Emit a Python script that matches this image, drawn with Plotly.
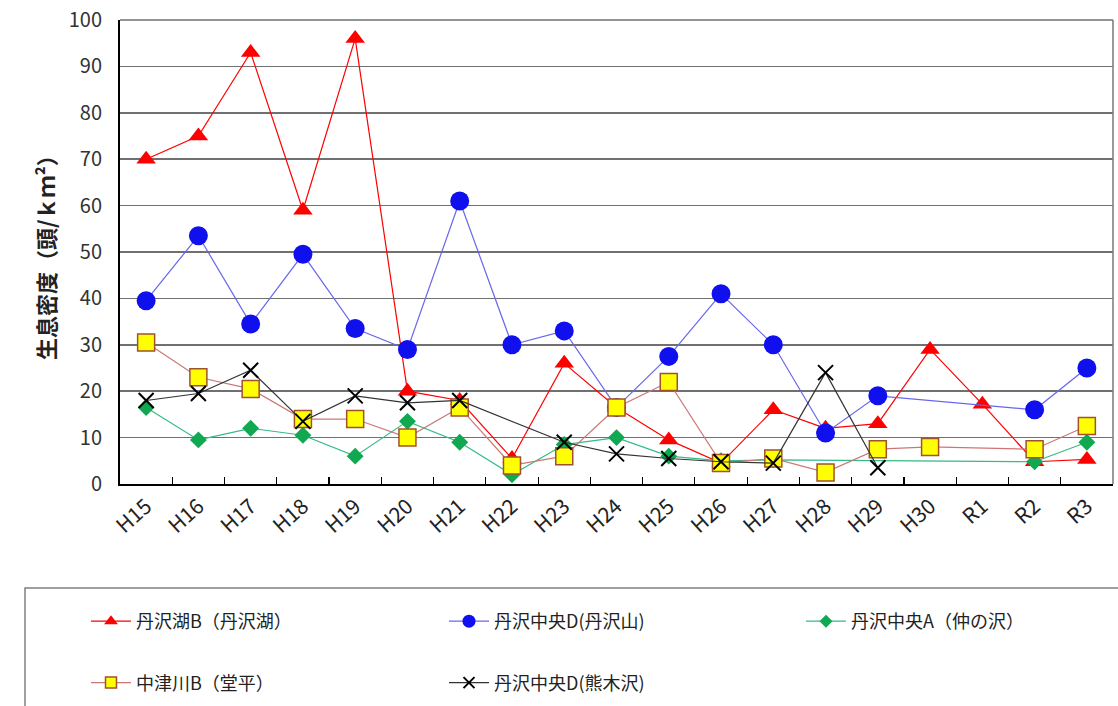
import plotly.graph_objects as go

years = ["H15", "H16", "H17", "H18", "H19", "H20", "H21", "H22", "H23", "H24",
         "H25", "H26", "H27", "H28", "H29", "H30", "R1", "R2", "R3"]

tanzawako_b = [70, 75, 93, 59, 96, 20, 18, 5.5, 26, 16.5, 9.5, 4.5, 16, 12, 13, 29, 17.2, 4.8, 5.3]
chuo_d_tanzawasan = [39.5, 53.5, 34.5, 49.5, 33.5, 29, 61, 30, 33, 16.5, 27.5, 41, 30, 11, 19, None, None, 16, 25]
chuo_a_nakanosawa = [16.5, 9.5, 12, 10.5, 6, 13.5, 9, 2, 8.5, 10, 6, 5, 5.2, None, None, None, None, 4.8, 9]
nakatsugawa_b = [30.5, 23, 20.5, 14, 14, 10, 16.5, 4, 6, 16.5, 22, 4.5, 5.5, 2.5, 7.5, 8, None, 7.5, 12.5]
chuo_d_kumakisawa = [18, 19.5, 24.5, 13.5, 19, 17.5, 18, None, 9, 6.5, 5.5, 4.8, 4.5, 24, 3.5, None, None, None, None]

names = ["丹沢湖B（丹沢湖）", "丹沢中央D(丹沢山)", "丹沢中央A（仲の沢）", "中津川B（堂平）", "丹沢中央D(熊木沢)"]
series = [tanzawako_b, chuo_d_tanzawasan, chuo_a_nakanosawa, nakatsugawa_b, chuo_d_kumakisawa]
line_colors = ["#FF0000", "#6666EE", "#33BB88", "#CC7777", "#333333"]
marker_symbols = ["triangle-up", "circle", "diamond", "square", "x-thin"]
marker_colors = ["#FF0000", "#1010EE", "#10A850", "#FFFF00", "#000000"]
marker_lines = [dict(width=0), dict(width=0), dict(width=0),
                dict(width=1.5, color="#A0522D"), dict(width=2, color="#000000")]
marker_sizes = [17, 19, 13, 17, 15]
legend_marker_sizes = [12, 13, 10, 11, 11]
legend_ids = ["legend", "legend2", "legend3", "legend", "legend2"]

FONT = "Noto Sans CJK JP"
fig = go.Figure()

for i in range(5):
    fig.add_trace(go.Scatter(
        x=years, y=series[i], mode="lines+markers", name=names[i],
        connectgaps=True, showlegend=False,
        line=dict(color=line_colors[i], width=1.2),
        marker=dict(symbol=marker_symbols[i], size=marker_sizes[i],
                    color=marker_colors[i], line=marker_lines[i]),
    ))

for i in range(5):
    fig.add_trace(go.Scatter(
        x=[None], y=[None], mode="lines+markers", name=names[i],
        legend=legend_ids[i], legendgroup=names[i], showlegend=True,
        line=dict(color=line_colors[i], width=1.2),
        marker=dict(symbol=marker_symbols[i], size=legend_marker_sizes[i],
                    color=marker_colors[i], line=marker_lines[i]),
    ))

W, H = 1118, 706
plot_left, plot_right, plot_top, plot_bottom = 120, 1113, 20, 484
L = plot_left
T = plot_top
R = W - plot_right
B = H - plot_bottom
pw, ph = W - L - R, H - T - B

def px_x(x):
    return (x - plot_left) / pw

def px_y(y):
    return (plot_bottom - y) / ph

legend_common = dict(
    orientation="v", yanchor="top", xanchor="left",
    font=dict(family=FONT, size=18, color="#222"),
    bgcolor="rgba(0,0,0,0)", borderwidth=0, tracegroupgap=35,
    itemwidth=40,
)
leg_y = px_y(603)
fig.update_layout(
    legend=dict(x=px_x(86), y=leg_y, **legend_common),
    legend2=dict(x=px_x(444), y=leg_y, **legend_common),
    legend3=dict(x=px_x(801), y=leg_y, **legend_common),
)

fig.update_layout(
    width=W, height=H,
    margin=dict(l=L, r=R, t=T, b=B, autoexpand=False),
    paper_bgcolor="white", plot_bgcolor="white",
    font=dict(family=FONT, color="#222"),
    xaxis=dict(
        type="category", categoryarray=years, tickson="boundaries",
        ticks="inside", ticklen=7, tickcolor="#000", tickwidth=1.2,
        showline=True, linecolor="#000", linewidth=2,
        showgrid=False, tickangle=-42,
        tickfont=dict(family=FONT, size=21, color="#222"),
        range=[-0.5, 18.5], fixedrange=True, ticklabeloverflow="allow",
    ),
    yaxis=dict(
        range=[0, 100], dtick=10, tick0=0,
        showline=True, linecolor="#000", linewidth=2,
        showgrid=True, gridcolor="#707070", gridwidth=1.6,
        ticks="", tickfont=dict(family=FONT, size=20, color="#333"),
        zeroline=False, fixedrange=True, ticklabeloverflow="allow",
        ticklabelstandoff=12,
    ),
    shapes=[
        dict(type="line", xref="paper", yref="paper", x0=1, x1=1, y0=0, y1=1,
             line=dict(color="#808080", width=1.6)),
        dict(type="line", xref="paper", yref="paper", x0=0, x1=1, y0=1, y1=1,
             line=dict(color="#707070", width=1.6)),
        dict(type="rect", xref="paper", yref="paper",
             x0=px_x(25), x1=px_x(1130), y0=px_y(588), y1=px_y(720),
             line=dict(color="#808080", width=1.5)),
    ],
    annotations=[
        dict(text="<b>生息密度（頭/ｋｍ²）</b>", textangle=-90,
             xref="paper", yref="paper", x=px_x(45), y=px_y(252),
             showarrow=False, font=dict(family=FONT, size=22, color="#222"),
             xanchor="center", yanchor="middle"),
    ],
)

fig.write_html(
    "out.html",
    config={"displayModeBar": False, "staticPlot": True},
    post_script="document.body.style.margin='0';document.body.style.padding='0';document.body.style.overflow='hidden';",
)
